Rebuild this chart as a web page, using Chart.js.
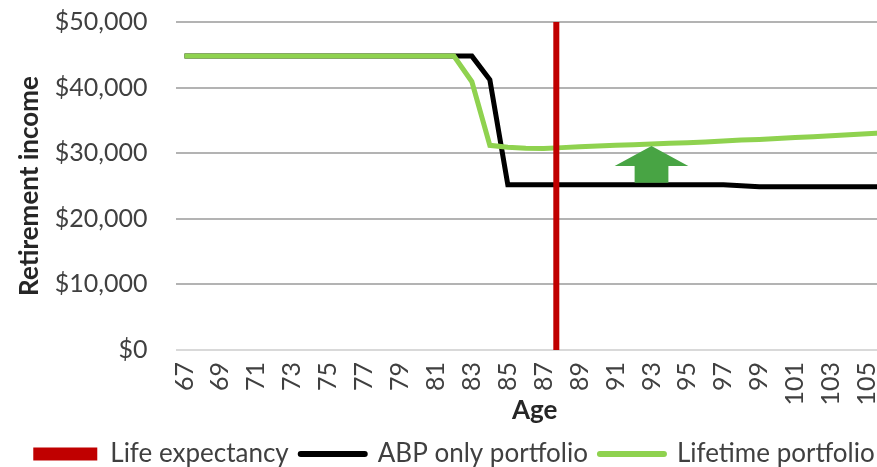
<!DOCTYPE html>
<html>
<head>
<meta charset="utf-8">
<script src="https://cdn.jsdelivr.net/npm/chart.js@4/dist/chart.umd.min.js"></script>
<style>
  html, body { margin: 0; padding: 0; background: #ffffff; overflow: hidden; }
  #frame { width: 877px; height: 467px; overflow: hidden; position: relative; }
  #chart { position: absolute; left: 0; top: 0; }
</style>
</head>
<body>
<div id="frame"><canvas id="chart" width="910" height="467"></canvas></div>
<script>
// Age in years (one category per year)
const ages = [67, 68, 69, 70, 71, 72, 73, 74, 75, 76, 77, 78, 79, 80, 81, 82, 83, 84, 85, 86,
              87, 88, 89, 90, 91, 92, 93, 94, 95, 96, 97, 98, 99, 100, 101, 102, 103, 104, 105, 106];

// Annual retirement income ($) – account-based pension only
const abpIncome = [44800, 44800, 44800, 44800, 44800, 44800, 44800, 44800, 44800, 44800,
                   44800, 44800, 44800, 44800, 44800, 44800, 44800, 41200, 25200, 25200,
                   25200, 25200, 25200, 25200, 25200, 25200, 25200, 25200, 25200, 25200,
                   25200, 25050, 24900, 24900, 24900, 24900, 24900, 24900, 24900, 24900];

// Annual retirement income ($) – lifetime portfolio
const lifetimeIncome = [44800, 44800, 44800, 44800, 44800, 44800, 44800, 44800, 44800, 44800,
                        44800, 44800, 44800, 44800, 44800, 44800, 40900, 31200, 30900, 30750,
                        30700, 30850, 31000, 31100, 31200, 31300, 31400, 31500, 31600, 31700,
                        31850, 32000, 32100, 32250, 32400, 32500, 32650, 32800, 32950, 33100];

// Life expectancy (age) and the income range its marker spans
const lifeExpectancyAge = 87.7;
const lifeExpectancyRange = [0, 50000];

// Axis tick labels
const incomeTicks = [0, 10000, 20000, 30000, 40000, 50000];
const ageTickLabels = ['67', '69', '71', '73', '75', '77', '79', '81', '83', '85', '87', '89',
                       '91', '93', '95', '97', '99', '101', '103', '105'];

// Age at which the improvement arrow is drawn
const arrowAge = 93;

const FONT = 'Lato, "Open Sans", sans-serif';
const RED = '#c00000';
const GREEN_LINE = '#8fd24f';
const GREEN_ARROW = '#48a444';

// Upward arrow between the two income lines
const arrowPlugin = {
  id: 'improvementArrow',
  afterDatasetsDraw(chart) {
    const xs = chart.scales.x, ys = chart.scales.y;
    const i = ages.indexOf(arrowAge);
    const cx = xs.getPixelForValue(i);
    const tip = ys.getPixelForValue(lifetimeIncome[i]) + 2;
    const base = ys.getPixelForValue(abpIncome[i]) - 2;
    const cat = xs.width / ages.length;
    const headHalf = cat * 2.05, shaftHalf = cat * 0.94, headLen = 20;
    const ctx = chart.ctx;
    ctx.save();
    ctx.fillStyle = GREEN_ARROW;
    ctx.beginPath();
    ctx.moveTo(cx, tip);
    ctx.lineTo(cx + headHalf, tip + headLen);
    ctx.lineTo(cx + shaftHalf, tip + headLen);
    ctx.lineTo(cx + shaftHalf, base);
    ctx.lineTo(cx - shaftHalf, base);
    ctx.lineTo(cx - shaftHalf, tip + headLen);
    ctx.lineTo(cx - headHalf, tip + headLen);
    ctx.closePath();
    ctx.fill();
    ctx.restore();
  }
};

new Chart(document.getElementById('chart'), {
  type: 'line',
  data: {
    labels: ages.map(String),
    datasets: [
      {
        label: 'Life expectancy',
        xAxisID: 'xAge',
        data: lifeExpectancyRange.map(v => ({ x: lifeExpectancyAge, y: v })),
        borderColor: RED,
        backgroundColor: RED,
        borderWidth: 6,
        borderCapStyle: 'butt',
        pointRadius: 0,
        order: 0,
        legendBox: true
      },
      {
        label: 'ABP only portfolio',
        xAxisID: 'x',
        data: abpIncome,
        borderColor: '#000000',
        backgroundColor: '#000000',
        borderWidth: 5,
        pointRadius: 0,
        tension: 0,
        order: 2
      },
      {
        label: 'Lifetime portfolio',
        xAxisID: 'x',
        data: lifetimeIncome,
        borderColor: GREEN_LINE,
        backgroundColor: GREEN_LINE,
        borderWidth: 5,
        pointRadius: 0,
        tension: 0,
        order: 1
      }
    ]
  },
  options: {
    responsive: false,
    animation: false,
    devicePixelRatio: 1,
    layout: { padding: { left: 14, right: 16, top: 22, bottom: -10 } },
    plugins: {
      tooltip: { enabled: false },
      legend: {
        position: 'bottom',
        labels: {
          font: { family: FONT, size: 26 },
          color: '#404040',
          usePointStyle: true,
          pointStyleWidth: 64,
          boxHeight: 13,
          padding: 12,
          generateLabels(chart) {
            return chart.data.datasets.map((ds, i) => {
              const isBox = !!ds.legendBox;
              return {
                text: ds.label,
                datasetIndex: i,
                pointStyle: isBox ? 'rect' : 'line',
                fillStyle: ds.borderColor,
                strokeStyle: ds.borderColor,
                lineWidth: isBox ? 0 : 6,
                lineCap: 'round',
                fontColor: '#404040',
                hidden: false
              };
            });
          }
        }
      }
    },
    scales: {
      x: {
        type: 'category',
        offset: true,
        afterFit(scale) {
          scale.height = 79;
          scale.paddingLeft = 0;
          scale.paddingRight = 0;
        },
        grid: { display: false, drawTicks: false },
        border: { display: false },
        ticks: {
          autoSkip: false,
          minRotation: 90,
          maxRotation: 90,
          padding: 12,
          color: '#404040',
          font: { family: FONT, size: 25 },
          callback(value, index) {
            const lbl = String(ages[index]);
            return ageTickLabels.includes(lbl) ? lbl : '';
          }
        },
        title: {
          display: true,
          text: 'Age',
          color: '#262626',
          font: { family: FONT, size: 26, weight: 'bold' },
          padding: { top: 0, bottom: 3 }
        }
      },
      xAge: {
        type: 'linear',
        position: 'bottom',
        display: false,
        min: ages[0] - 0.5,
        max: ages[ages.length - 1] + 0.5
      },
      y: {
        min: 0,
        max: 50000,
        afterBuildTicks(scale) {
          scale.ticks = incomeTicks.map(v => ({ value: v }));
        },
        afterFit(scale) {
          scale.width = 161.5;
          scale.paddingTop = 0;
          scale.paddingBottom = 0;
        },
        grid: {
          drawTicks: false,
          lineWidth: 2,
          color: ctx => (ctx.tick && ctx.tick.value === 0 ? '#d9d9d9' : '#b3b3b3')
        },
        border: { display: false },
        ticks: {
          padding: 28,
          color: '#404040',
          font: { family: FONT, size: 25 },
          callback: v => '$' + Number(v).toLocaleString('en-US')
        },
        title: {
          display: true,
          text: 'Retirement income',
          color: '#262626',
          font: { family: FONT, size: 26, weight: 'bold' },
          padding: { top: 0, bottom: 0 }
        }
      }
    }
  },
  plugins: [arrowPlugin]
});
</script>
</body>
</html>
